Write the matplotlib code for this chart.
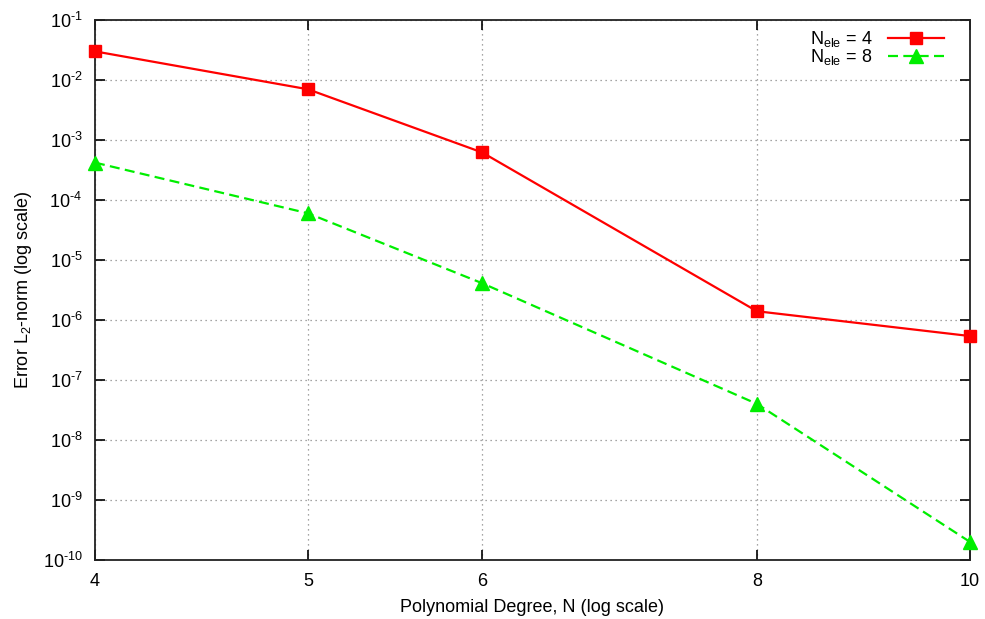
import numpy as np
import matplotlib
matplotlib.use("Agg")
import matplotlib.pyplot as plt
from matplotlib.ticker import FixedLocator, NullLocator, FixedFormatter, LogLocator, FuncFormatter

plt.rcParams.update({
    "font.family": "Liberation Sans",
    "font.size": 13,
    "mathtext.fontset": "custom",
    "mathtext.rm": "Liberation Sans",
    "mathtext.it": "Liberation Sans:italic",
    "mathtext.bf": "Liberation Sans:bold",
})

# Polynomial degree and L2 error for the two mesh resolutions
degree = [4, 5, 6, 8, 10]
err_nele4 = [3.0e-2, 7.0e-3, 6.2e-4, 1.4e-6, 5.4e-7]
err_nele8 = [4.2e-4, 6.0e-5, 4.1e-6, 4.0e-8, 2.0e-10]
xtick_vals = [4, 5, 6, 8, 10]
xtick_labels = ["4", "5", "6", "8", "10"]


def pow10_label(v, pos):
    e = int(round(np.log10(v)))
    return r"10$^{\mathregular{%s}}$" % (("\u2010" + str(-e)) if e < 0 else str(e))


fig = plt.figure(figsize=(9.85, 6.19), dpi=100)
ax = fig.add_axes([0.0964, 0.0953, 0.8884, 0.8724])

ax.plot(degree, err_nele4, color="#ff0000", lw=1.6, ls="-",
        marker="s", ms=9, label=r"N$_{\rm ele}$ = 4", clip_on=False, zorder=3)
ax.plot(degree, err_nele8, color="#00ee00", lw=1.6, ls=(0, (4.5, 2.4)),
        marker="^", ms=10, label=r"N$_{\rm ele}$ = 8", clip_on=False, zorder=3)

ax.set_xscale("log")
ax.set_yscale("log")
ax.set_xlim(4, 10)
ax.set_ylim(1e-10, 1e-1)

ax.xaxis.set_major_locator(FixedLocator(xtick_vals))
ax.xaxis.set_major_formatter(FixedFormatter(xtick_labels))
ax.xaxis.set_minor_locator(NullLocator())
ax.yaxis.set_major_locator(LogLocator(base=10, numticks=20))
ax.yaxis.set_major_formatter(FuncFormatter(pow10_label))
ax.yaxis.set_minor_locator(NullLocator())

ax.tick_params(which="major", direction="in", length=7, width=1.2,
               top=True, right=True, labelsize=13)
ax.tick_params(axis="y", pad=9)
ax.tick_params(axis="x", pad=9)
for s in ax.spines.values():
    s.set_linewidth(1.3)
    s.set_color("#222222")

ax.grid(True, which="major", color="#888888", lw=0.9, ls=(0, (1, 3)))

ax.set_xlabel("Polynomial Degree, N (log scale)", fontsize=13, labelpad=7)
ax.set_ylabel(r"Error L$_2$-norm (log scale)", fontsize=13, labelpad=6)

leg = ax.legend(loc="upper right", bbox_to_anchor=(0.978, 0.997), frameon=False,
                markerfirst=False, handlelength=3.1, fontsize=13,
                borderaxespad=0.0, labelspacing=-0.1, handletextpad=0.85)

fig.savefig("out.png", dpi=100)
